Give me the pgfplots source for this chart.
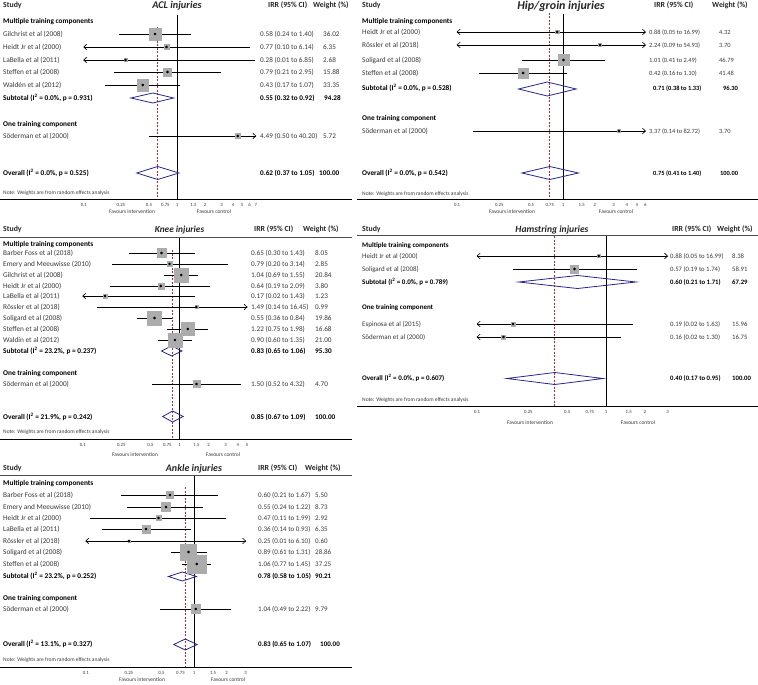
\documentclass[border=0pt]{standalone}
\usepackage{fontspec}
\setmainfont{Carlito}
\usepackage{pgfplots}
\pgfplotsset{compat=1.18}
\usepackage{pgfplotstable}
\definecolor{sqgray}{RGB}{172,172,172}
\definecolor{dblue}{RGB}{38,38,140}
\definecolor{dred}{RGB}{190,40,50}
\definecolor{txtc}{RGB}{55,55,55}
\pgfdeclareplotmark{larr}{\pgfpathmoveto{\pgfpoint{3pt}{2.8pt}}\pgfpathlineto{\pgfpointorigin}\pgfpathlineto{\pgfpoint{3pt}{-2.8pt}}\pgfusepathqstroke}
\pgfdeclareplotmark{rarr}{\pgfpathmoveto{\pgfpoint{-3pt}{2.8pt}}\pgfpathlineto{\pgfpointorigin}\pgfpathlineto{\pgfpoint{-3pt}{-2.8pt}}\pgfusepathqstroke}
\pgfplotsset{
 forestax/.style={scale only axis, axis line style={draw=none}, ytick=\empty, major tick length=0pt, minor tick length=0pt, xminorticks=false, enlargelimits=false, clip=true, anchor=south west,
   xticklabel style={font=\fontsize{4.8}{5}\selectfont, inner sep=0pt, text height=3pt, text depth=0pt, yshift=-4.5pt, text=txtc}},
 sqmark/.style={scatter, only marks, mark=square*, scatter/use mapped color={draw=sqgray, fill=sqgray}, visualization depends on={#1*sqrt(\thisrow{w})/2 \as \msz}, scatter/@pre marker code/.append style={/tikz/mark size=\msz}},
 cimark/.style={black, only marks, mark=*, mark size=1.1pt, mark options={fill=black, draw=black, line width=0.4pt, solid}, error bars/x dir=both, error bars/x explicit, error bars/error mark=none, error bars/error bar style={line width=0.65pt, black}},
 larrow/.style={only marks, mark=larr, mark options={line width=0.65pt, black}},
 rarrow/.style={only marks, mark=rarr, mark options={line width=0.65pt, black}},
 diamond/.style={dblue, line width=0.8pt, mark=none, line join=miter},
 nullline/.style={black, line width=0.9pt, mark=none},
 ovline/.style={dred, line width=0.6pt, mark=none, dash pattern=on 2pt off 1.5pt},
}
\def\fsn{7.3}\def\fsi{7.3}\def\fst{10.3}
\tikzset{
  nm/.style={anchor=west, inner sep=0pt, text height=5.2pt, text depth=0.6pt, font=\fontsize{\fsn}{8.5}\selectfont, text=txtc},
  bn/.style={nm, font=\fontsize{\fsn}{8.5}\selectfont\bfseries, text=black},
  ir/.style={nm, font=\fontsize{\fsi}{8.5}\selectfont},
  bir/.style={nm, font=\fontsize{\fsi}{8.5}\selectfont\bfseries, text=black},
  hd/.style={anchor=west, inner sep=0pt, text height=5.6pt, text depth=0.6pt, font=\fontsize{7.8}{9}\selectfont\bfseries, text=black!85},
  tt/.style={inner sep=0pt, text height=7.2pt, text depth=1.2pt, font=\fontsize{\fst}{14}\selectfont\bfseries\itshape, text=black!85},
  nt/.style={anchor=west, inner sep=0pt, text height=3.8pt, text depth=0.4pt, font=\fontsize{5.5}{6}\selectfont, text=txtc},
  fv/.style={inner sep=0pt, text height=3.8pt, text depth=0.8pt, font=\fontsize{5.5}{6}\selectfont, text=txtc},
}
\newcommand{\T}[4][nm]{\node[#1] at (#2pt,-#3pt) {#4};}
\newcommand{\I}[3]{\node[ir] at (#1pt,-#2pt) {#3};}
\newcommand{\B}[3]{\node[bir] at (#1pt,-#2pt) {#3};}
\newcommand{\Isq}{I\textsuperscript{2}}

% ---------- data: irr, lower, upper, weight, row position ----------
\pgfplotstableread{
irr lo hi w y
0.58 0.24 1.40 36.02 -34
0.77 0.10 6.14 6.35 -47
0.28 0.01 6.85 2.68 -60
0.79 0.21 2.95 15.88 -72
0.43 0.17 1.07 33.35 -85
4.49 0.50 40.20 5.72 -136
}\acl
\pgfplotstableread{
irr lo hi w y
0.88 0.05 16.99 4.32 -32
2.24 0.09 54.93 3.70 -45
1.01 0.41 2.49 46.79 -60
0.42 0.16 1.10 41.48 -73
3.37 0.14 82.72 3.70 -131
}\hip
\pgfplotstableread{
irr lo hi w y
0.65 0.30 1.43 8.05 -253
0.79 0.20 3.14 2.85 -264
1.04 0.69 1.55 20.84 -275
0.64 0.19 2.09 3.80 -286
0.17 0.02 1.43 1.23 -296
1.49 0.14 16.45 0.99 -307
0.55 0.36 0.84 19.86 -318
1.22 0.75 1.98 16.68 -329
0.90 0.60 1.35 21.00 -340
1.50 0.52 4.32 4.70 -384
}\knee
\pgfplotstableread{
irr lo hi w y
0.88 0.05 16.99 8.38 -256
0.57 0.19 1.74 58.91 -269
0.19 0.02 1.63 15.96 -324
0.16 0.02 1.30 16.75 -337
}\ham
\pgfplotstableread{
irr lo hi w y
0.60 0.21 1.67 5.50 -495
0.55 0.24 1.22 8.73 -507
0.47 0.11 1.99 2.92 -518
0.36 0.14 0.93 6.35 -529
0.25 0.01 6.10 0.60 -541
0.89 0.61 1.31 28.86 -552
1.06 0.77 1.45 37.25 -564
1.04 0.49 2.22 9.79 -609
}\ank

\begin{document}
\begin{tikzpicture}
\useasboundingbox (0pt,0pt) rectangle (758pt,-685pt);

% ================= ACL =================
\def\fsn{7.3}\def\fsi{7.2}\def\fst{10.3}
\begin{axis}[xmode=log, forestax, at={(83.75pt,-199pt)}, width=172.06pt, height=187pt,
  xmin=0.0999, xmax=7.001, ymin=-199, ymax=-12,
  xtick={0.1,0.25,0.5,0.75,1,1.5,2,3,4,5,6,7}, xticklabels={0.1,0.25,0.5,0.75,1,1.5,2,3,4,5,6,7}]
\addplot[nullline] coordinates {(1,-15) (1,-199)};
\addplot[ovline] coordinates {(0.62,-27) (0.62,-199)};
\addplot[sqmark=2.0] table[x=irr,y=y] \acl;
\addplot[cimark] table[x=irr, y=y, x error plus expr=\thisrow{hi}-\thisrow{irr}, x error minus expr=\thisrow{irr}-\thisrow{lo}] \acl;
\addplot[larrow] coordinates {(0.1,-47) (0.1,-60)};
\addplot[rarrow] coordinates {(7,-136)};
\addplot[diamond] coordinates {(0.32,-98) (0.55,-93) (0.92,-98) (0.55,-103)} --cycle;
\addplot[diamond] coordinates {(0.37,-173) (0.62,-166.5) (1.05,-173) (0.62,-179.5)} --cycle;
\end{axis}
\draw[black, line width=1pt] (0pt,-199pt) -- (352pt,-199pt);
\T[hd]{3}{5}{Study}
\T[tt]{177}{5.5}{ACL injuries}
\T[hd]{268}{5}{IRR (95\% CI)}
\T[hd]{313}{5}{Weight (\%)}
\T[bn]{3}{21}{Multiple training components}
\T{3}{34}{Gilchrist et al (2008)}\I{260}{34}{0.58 (0.24 to 1.40)}\I{323}{34}{36.02}
\T{3}{47}{Heidt Jr et al (2000)}\I{260}{47}{0.77 (0.10 to 6.14)}\I{323}{47}{6.35}
\T{3}{60}{LaBella et al (2011)}\I{260}{60}{0.28 (0.01 to 6.85)}\I{323}{60}{2.68}
\T{3}{72}{Steffen et al (2008)}\I{260}{72}{0.79 (0.21 to 2.95)}\I{323}{72}{15.88}
\T{3}{85}{Waldén et al (2012)}\I{260}{85}{0.43 (0.17 to 1.07)}\I{323}{85}{33.35}
\T[bn]{3}{98}{Subtotal (\Isq{} = 0.0\%, p = 0.931)}\B{260}{98}{0.55 (0.32 to 0.92)}\B{324}{98}{94.28}
\T[bn]{3}{124}{One training component}
\T{3}{136}{Söderman et al (2000)}\I{260}{136}{4.49 (0.50 to 40.20)}\I{323}{136}{5.72}
\T[bn]{3}{173}{Overall (\Isq{} = 0.0\%, p = 0.525)}\B{260}{173}{0.62 (0.37 to 1.05)}\B{319}{173}{100.00}
\T[nt]{3}{193}{Note: Weights are from random effects analysis}
\T[fv]{132}{212}{Favours intervention}\T[fv]{214}{212}{Favours control}

% ================= HIP/GROIN =================
\def\fsn{7.3}\def\fsi{6.4}\def\fst{12}
\begin{axis}[xmode=log, forestax, at={(457.08pt,-199pt)}, width=188.34pt, height=187pt,
  xmin=0.0999, xmax=6.001, ymin=-199, ymax=-12,
  xtick={0.1,0.25,0.5,0.75,1,1.5,2,3,4,5,6}, xticklabels={0.1,0.25,0.5,0.75,1,1.5,2,3,4,5,6}]
\addplot[nullline] coordinates {(1,-14) (1,-199)};
\addplot[ovline] coordinates {(0.75,-13) (0.75,-199)};
\addplot[sqmark=1.6] table[x=irr,y=y] \hip;
\addplot[cimark] table[x=irr, y=y, x error plus expr=\thisrow{hi}-\thisrow{irr}, x error minus expr=\thisrow{irr}-\thisrow{lo}] \hip;
\addplot[larrow] coordinates {(0.1,-32) (0.1,-45)};
\addplot[rarrow] coordinates {(6,-32) (6,-45) (6,-131)};
\addplot[diamond] coordinates {(0.38,-89) (0.71,-82) (1.33,-89) (0.71,-96)} --cycle;
\addplot[diamond] coordinates {(0.41,-173) (0.75,-166.5) (1.40,-173) (0.75,-179.5)} --cycle;
\end{axis}
\draw[black, line width=1pt] (357pt,-199pt) -- (758pt,-199pt);
\T[hd]{362}{5}{Study}
\T[tt]{561}{6.5}{Hip/groin injuries}
\T[hd]{654}{5}{IRR (95\% CI)}
\T[hd]{712}{5}{Weight (\%)}
\T[bn]{362}{21}{Multiple training components}
\T{362}{32}{Heidt Jr et al (2000)}\I{649}{32}{0.88 (0.05 to 16.99)}\I{719}{32}{4.32}
\T{362}{45}{Rössler et al (2018)}\I{649}{45}{2.24 (0.09 to 54.93)}\I{719}{45}{3.70}
\T{362}{60}{Soligard et al (2008)}\I{649}{60}{1.01 (0.41 to 2.49)}\I{719}{60}{46.79}
\T{362}{73}{Steffen et al (2008)}\I{649}{73}{0.42 (0.16 to 1.10)}\I{719}{73}{41.48}
\T[bn]{362}{88}{Subtotal (\Isq{} = 0.0\%, p = 0.528)}\B{653}{88}{0.71 (0.38 to 1.33)}\B{723}{88}{96.30}
\T[bn]{362}{118}{One training component}
\T{362}{131}{Söderman et al (2000)}\I{649}{131}{3.37 (0.14 to 82.72)}\I{719}{131}{3.70}
\T[bn]{362}{173}{Overall (\Isq{} = 0.0\%, p = 0.542)}\B{653}{173}{0.75 (0.41 to 1.40)}\B{720}{173}{100.00}
\T[nt]{362}{194}{Note: Weights are from random effects analysis}
\T[fv]{512}{212}{Favours intervention}\T[fv]{616}{212}{Favours control}

% ================= KNEE =================
\def\fsn{7.3}\def\fsi{7.2}\def\fst{9.3}
\begin{axis}[xmode=log, forestax, at={(82.79pt,-439pt)}, width=164.31pt, height=202pt,
  xmin=0.0999, xmax=5.001, ymin=-439, ymax=-237,
  xtick={0.1,0.25,0.5,0.75,1,1.5,2,3,4,5}, xticklabels={0.1,0.25,0.5,0.75,1,1.5,2,3,4,5}]
\addplot[nullline] coordinates {(1,-237) (1,-439)};
\addplot[ovline] coordinates {(0.85,-250) (0.85,-439)};
\addplot[sqmark=3.1] table[x=irr,y=y] \knee;
\addplot[cimark] table[x=irr, y=y, x error plus expr=\thisrow{hi}-\thisrow{irr}, x error minus expr=\thisrow{irr}-\thisrow{lo}] \knee;
\addplot[larrow] coordinates {(0.1,-296)};
\addplot[rarrow] coordinates {(5,-307)};
\addplot[diamond] coordinates {(0.65,-351) (0.83,-346) (1.06,-351) (0.83,-356)} --cycle;
\addplot[diamond] coordinates {(0.67,-416.5) (0.85,-411) (1.09,-416.5) (0.85,-422)} --cycle;
\end{axis}
\draw[black!70, line width=0.6pt] (0pt,-237pt) -- (352pt,-237pt);
\draw[black, line width=1pt] (0pt,-439pt) -- (352pt,-439pt);
\T[hd]{3}{229}{Study}
\T[tt]{179.5}{229}{Knee injuries}
\T[hd]{254}{229}{IRR (95\% CI)}
\T[hd]{303}{229}{Weight (\%)}
\T[bn]{3}{244}{Multiple training components}
\T{3}{253}{Barber Foss et al (2018)}\I{251}{253}{0.65 (0.30 to 1.43)}\I{315}{253}{8.05}
\T{3}{264}{Emery and Meeuwisse (2010)}\I{251}{264}{0.79 (0.20 to 3.14)}\I{315}{264}{2.85}
\T{3}{275}{Gilchrist et al (2008)}\I{251}{275}{1.04 (0.69 to 1.55)}\I{315}{275}{20.84}
\T{3}{286}{Heidt Jr et al (2000)}\I{251}{286}{0.64 (0.19 to 2.09)}\I{315}{286}{3.80}
\T{3}{296}{LaBella et al (2011)}\I{251}{296}{0.17 (0.02 to 1.43)}\I{315}{296}{1.23}
\T{3}{307}{Rössler et al (2018)}\I{251}{307}{1.49 (0.14 to 16.45)}\I{315}{307}{0.99}
\T{3}{318}{Soligard et al (2008)}\I{251}{318}{0.55 (0.36 to 0.84)}\I{315}{318}{19.86}
\T{3}{329}{Steffen et al (2008)}\I{251}{329}{1.22 (0.75 to 1.98)}\I{315}{329}{16.68}
\T{3}{340}{Waldín et al (2012)}\I{251}{340}{0.90 (0.60 to 1.35)}\I{315}{340}{21.00}
\T[bn]{3}{351}{Subtotal (\Isq{} = 23.2\%, p = 0.237)}\B{251}{351}{0.83 (0.65 to 1.06)}\B{315}{351}{95.30}
\T[bn]{3}{373}{One training component}
\T{3}{384}{Söderman et al (2000)}\I{251}{384}{1.50 (0.52 to 4.32)}\I{315}{384}{4.70}
\T[bn]{3}{417}{Overall (\Isq{} = 21.9\%, p = 0.242)}\B{251}{417}{0.85 (0.67 to 1.09)}\B{315}{417}{100.00}
\T[nt]{3}{432}{Note: Weights are from random effects analysis}
\T[fv]{135}{455}{Favours intervention}\T[fv]{223}{455}{Favours control}

% ================= HAMSTRING =================
\def\fsn{7.0}\def\fsi{6.7}\def\fst{9.6}
\begin{axis}[xmode=log, forestax, at={(477.06pt,-406pt)}, width=190.46pt, height=171pt,
  xmin=0.0999, xmax=3.001, ymin=-406, ymax=-235,
  xtick={0.1,0.25,0.5,0.75,1,1.5,2,3}, xticklabels={0.1,0.25,0.5,0.75,1,1.5,2,3}]
\addplot[nullline] coordinates {(1,-235) (1,-406)};
\addplot[ovline] coordinates {(0.40,-236) (0.40,-406)};
\addplot[sqmark=1.05] table[x=irr,y=y] \ham;
\addplot[cimark] table[x=irr, y=y, x error plus expr=\thisrow{hi}-\thisrow{irr}, x error minus expr=\thisrow{irr}-\thisrow{lo}] \ham;
\addplot[larrow] coordinates {(0.1,-256) (0.1,-324) (0.1,-337)};
\addplot[rarrow] coordinates {(3,-256)};
\addplot[diamond] coordinates {(0.21,-282) (0.60,-275.5) (1.71,-282) (0.60,-288.5)} --cycle;
\addplot[diamond] coordinates {(0.17,-378.5) (0.40,-372.5) (0.95,-378.5) (0.40,-384.5)} --cycle;
\end{axis}
\draw[black!70, line width=0.6pt] (357pt,-235pt) -- (758pt,-235pt);
\draw[black, line width=1pt] (357pt,-406pt) -- (758pt,-406pt);
\T[hd]{362}{229}{Study}
\T[tt]{552}{229}{Hamstring injuries}
\T[hd]{672}{229}{IRR (95\% CI)}
\T[hd]{717}{229}{Weight (\%)}
\T[bn]{362}{245}{Multiple training components}
\T{362}{256}{Heidt Jr et al (2000)}\I{670}{256}{0.88 (0.05 to 16.99)}\I{732}{256}{8.38}
\T{362}{269}{Soligard et al (2008)}\I{670}{269}{0.57 (0.19 to 1.74)}\I{732}{269}{58.91}
\T[bn]{362}{282}{Subtotal (\Isq{} = 0.0\%, p = 0.789)}\B{670}{282}{0.60 (0.21 to 1.71)}\B{732}{282}{67.29}
\T[bn]{362}{307}{One training component}
\T{362}{324}{Espinosa et al (2015)}\I{670}{324}{0.19 (0.02 to 1.63)}\I{732}{324}{15.96}
\T{362}{337}{Söderman et al (2000)}\I{670}{337}{0.16 (0.02 to 1.30)}\I{732}{337}{16.75}
\T[bn]{362}{378}{Overall (\Isq{} = 0.0\%, p = 0.607)}\B{670}{378}{0.40 (0.17 to 0.95)}\B{732}{378}{100.00}
\T[nt]{362}{400}{Note: Weights are from random effects analysis}
\T[fv]{530}{423}{Favours intervention}\T[fv]{638}{423}{Favours control}

% ================= ANKLE =================
\def\fsn{7.3}\def\fsi{7.0}\def\fst{10}
\begin{axis}[xmode=log, forestax, at={(85.78pt,-667pt)}, width=159.85pt, height=192pt,
  xmin=0.0999, xmax=3.001, ymin=-667, ymax=-475,
  xtick={0.1,0.25,0.5,0.75,1,1.5,2,3}, xticklabels={0.1,0.25,0.5,0.75,1,1.5,2,3}]
\addplot[nullline] coordinates {(1,-475) (1,-667)};
\addplot[ovline] coordinates {(0.83,-487) (0.83,-667)};
\addplot[sqmark=3.0] table[x=irr,y=y] \ank;
\addplot[cimark] table[x=irr, y=y, x error plus expr=\thisrow{hi}-\thisrow{irr}, x error minus expr=\thisrow{irr}-\thisrow{lo}] \ank;
\addplot[larrow] coordinates {(0.1,-541)};
\addplot[rarrow] coordinates {(3,-541)};
\addplot[diamond] coordinates {(0.58,-576.5) (0.78,-572) (1.05,-576.5) (0.78,-581)} --cycle;
\addplot[diamond] coordinates {(0.65,-644.5) (0.83,-639) (1.07,-644.5) (0.83,-650)} --cycle;
\end{axis}
\draw[black!70, line width=0.6pt] (0pt,-475pt) -- (352pt,-475pt);
\draw[black, line width=1pt] (0pt,-667pt) -- (352pt,-667pt);
\T[hd]{3}{468}{Study}
\T[tt]{194}{468}{Ankle injuries}
\T[hd]{258}{468}{IRR (95\% CI)}
\T[hd]{305}{468}{Weight (\%)}
\T[bn]{3}{483}{Multiple training components}
\T{3}{495}{Barber Foss et al (2018)}\I{258}{495}{0.60 (0.21 to 1.67)}\I{315}{495}{5.50}
\T{3}{507}{Emery and Meeuwisse (2010)}\I{258}{507}{0.55 (0.24 to 1.22)}\I{315}{507}{8.73}
\T{3}{518}{Heidt Jr et al (2000)}\I{258}{518}{0.47 (0.11 to 1.99)}\I{315}{518}{2.92}
\T{3}{529}{LaBella et al (2011)}\I{258}{529}{0.36 (0.14 to 0.93)}\I{315}{529}{6.35}
\T{3}{541}{Rössler et al (2018)}\I{258}{541}{0.25 (0.01 to 6.10)}\I{315}{541}{0.60}
\T{3}{552}{Soligard et al (2008)}\I{258}{552}{0.89 (0.61 to 1.31)}\I{315}{552}{28.86}
\T{3}{564}{Steffen et al (2008)}\I{258}{564}{1.06 (0.77 to 1.45)}\I{315}{564}{37.25}
\T[bn]{3}{576}{Subtotal (\Isq{} = 23.2\%, p = 0.252)}\B{258}{576}{0.78 (0.58 to 1.05)}\B{315}{576}{90.21}
\T[bn]{3}{598}{One training component}
\T{3}{609}{Söderman et al (2000)}\I{258}{609}{1.04 (0.49 to 2.22)}\I{315}{609}{9.79}
\T[bn]{3}{644}{Overall (\Isq{} = 13.1\%, p = 0.327)}\B{258}{644}{0.83 (0.65 to 1.07)}\B{320}{644}{100.00}
\T[nt]{3}{660}{Note: Weights are from random effects analysis}
\T[fv]{142}{680}{Favours intervention}\T[fv]{228}{680}{Favours control}
\end{tikzpicture}
\end{document}
